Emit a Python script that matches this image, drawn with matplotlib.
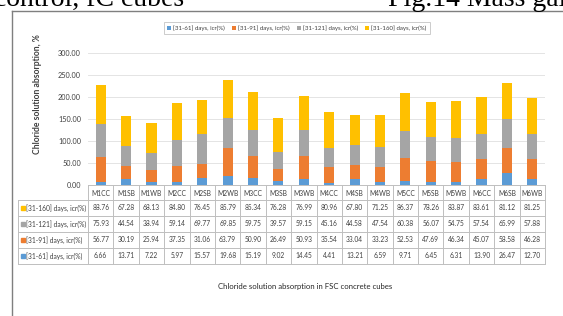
import matplotlib
matplotlib.use('Agg')
import matplotlib.pyplot as plt
import matplotlib.transforms as mtransforms
from matplotlib.patches import Patch, Rectangle
import numpy as np

categories = ['M1CC', 'M1SB', 'M1WB', 'M2CC', 'M2SB', 'M2WB', 'M3CC', 'M3SB', 'M3WB',
              'M4CC', 'M4SB', 'M4WB', 'M5CC', 'M5SB', 'M5WB', 'M6CC', 'M6SB', 'M6WB']
d61 = [6.66, 13.71, 7.22, 5.97, 15.57, 19.68, 15.19, 9.02, 14.45, 4.41, 13.21, 6.59,
       9.71, 6.45, 6.31, 13.90, 26.47, 12.70]
d91 = [56.77, 30.19, 25.94, 37.35, 31.06, 63.79, 50.90, 26.49, 50.93, 35.54, 33.04, 33.23,
       52.53, 47.69, 46.34, 45.07, 58.58, 46.28]
d121 = [75.93, 44.54, 38.94, 59.14, 69.77, 69.85, 59.75, 39.57, 59.15, 45.16, 44.58, 47.54,
        60.38, 56.07, 54.75, 57.54, 65.99, 57.88]
d160 = [88.76, 67.28, 68.13, 84.80, 76.45, 85.79, 85.34, 76.28, 76.99, 80.96, 67.80, 71.25,
        86.37, 78.26, 83.87, 83.61, 81.12, 81.25]
series_labels = ['[31-61] days, icr(%)', '[31-91] days, icr(%)',
                 '[31-121] days, icr(%)', '[31-160] days, icr(%)']
colors = ['#5B9BD5', '#ED7D31', '#A5A5A5', '#FFC000']
yticks = [0, 50, 100, 150, 200, 250, 300]

W, H = 563, 316
fig = plt.figure(figsize=(W / 100, H / 100), dpi=100)
fig.patch.set_facecolor('white')

# overlay axes in pixel coordinates (y downward)
ov = fig.add_axes([0, 0, 1, 1], zorder=0)
ov.set_xlim(0, W)
ov.set_ylim(H, 0)
ov.axis('off')

FONT = 'Lato'

# page text partially cut at top (as in the reference)
ov.text(184, 6, 'of control, fC cubes', fontsize=20, family='Liberation Serif',
        va='baseline', ha='right', color='black')
ov.text(388, 6, 'Fig.14 Mass gain', fontsize=20, family='Liberation Serif',
        va='baseline', ha='left', color='black')

# frame
ov.plot([12, 12], [11, H + 2], color='#7f7f7f', lw=1.0)
ov.plot([12, W + 2], [11, 11], color='#7f7f7f', lw=1.0)

# main axes
left, right, top, bottom = 88, 545, 53, 185
ax = fig.add_axes([left / W, 1 - bottom / H, (right - left) / W, (bottom - top) / H], zorder=2)
ax.set_facecolor('none')
n = len(categories)
x = np.arange(n)
bw = 0.4
bottoms = np.zeros(n)
for vals, c, lab in zip([d61, d91, d121, d160], colors, series_labels):
    ax.bar(x, vals, bw, bottom=bottoms, color=c, label=lab, zorder=3)
    bottoms = bottoms + np.array(vals)
ax.set_xlim(-0.5, n - 0.5)
ax.set_ylim(0, 300)
ax.set_yticks(yticks)
ax.set_yticklabels([f'{v:.2f}' for v in yticks], fontsize=5.2, family=FONT, color='#404040')
ax.tick_params(axis='y', length=0, pad=5)
ax.set_xticks([])
ax.grid(axis='y', color='#E4E4E4', lw=0.7, zorder=0)
for s in ['top', 'right', 'left']:
    ax.spines[s].set_visible(False)
ax.spines['bottom'].set_color('#BFBFBF')
ax.spines['bottom'].set_linewidth(0.7)

# y label
ov.text(37, 94, 'Chloride solution absorption, %', rotation=90, fontsize=6.2,
        family=FONT, fontweight='bold', color='#404040', ha='center', va='center')

# legend
handles = [Patch(facecolor=c, label=l) for c, l in zip(colors, series_labels)]
leg = fig.legend(handles=handles, loc='center', bbox_to_anchor=(297 / W, 1 - 28 / H),
                 ncol=4, prop={'family': FONT, 'size': 4.4},
                 handlelength=0.6, handleheight=0.6, handletextpad=0.35,
                 columnspacing=1.2, frameon=True, fancybox=False, borderpad=0.5)
leg.get_frame().set_edgecolor('#BFBFBF')
leg.get_frame().set_linewidth(0.7)
for t in leg.get_texts():
    t.set_color('#404040')

# data table
bl = mtransforms.blended_transform_factory(ax.transData, ov.transData)
row_y = [200, 216, 232, 248, 264]
lc = '#BFBFBF'
tlw = 0.7
for yy in row_y:
    ov.plot([18, right], [yy, yy], color=lc, lw=tlw)
ov.plot([18, 18], [200, 264], color=lc, lw=tlw)
for b in np.arange(n + 1) - 0.5:
    ov.plot([b, b], [bottom, 264], color=lc, lw=tlw, transform=bl)
for i, c in enumerate(categories):
    ov.text(i, 193, c, transform=bl, ha='center', va='center', fontsize=4.8,
            family=FONT, color='#404040')
rows = [(d160, colors[3], series_labels[3]), (d121, colors[2], series_labels[2]),
        (d91, colors[1], series_labels[1]), (d61, colors[0], series_labels[0])]
for r, (vals, c, lab) in enumerate(rows):
    yc = (row_y[r] + row_y[r + 1]) / 2
    ov.add_patch(Rectangle((20.5, yc - 2.2), 4, 4.4, color=c))
    ov.text(26.5, yc, lab, ha='left', va='center', fontsize=4.8, family=FONT, color='#404040')
    for i, v in enumerate(vals):
        ov.text(i, yc, f'{v:.2f}', transform=bl, ha='center', va='center', fontsize=4.8,
                family=FONT, color='#404040')

# caption
ov.text(305, 287, 'Chloride solution absorption in FSC concrete cubes', ha='center',
        va='center', fontsize=5.6, family=FONT, color='#262626')

fig.savefig('out.png', dpi=100, facecolor='white')
